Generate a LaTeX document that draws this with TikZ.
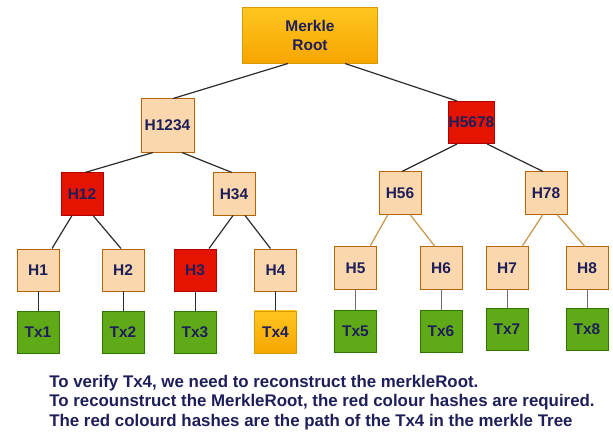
\documentclass[tikz,border=0pt]{standalone}
\usepackage{fontspec}
\setmainfont{Liberation Sans}
\definecolor{hashFill}{HTML}{FAD7AC}
\definecolor{hashDraw}{HTML}{B46504}
\definecolor{pathFill}{HTML}{E51400}
\definecolor{pathDraw}{HTML}{B20000}
\definecolor{txFill}{HTML}{60A917}
\definecolor{txDraw}{HTML}{2D7600}
\definecolor{goldTop}{HTML}{FFC61F}
\definecolor{goldBottom}{HTML}{F7A500}
\definecolor{goldDraw}{HTML}{D79B00}
\definecolor{labelInk}{HTML}{1E1E5A}
\definecolor{edgeDark}{HTML}{2B2B2B}
\definecolor{edgeTan}{HTML}{C99443}
\definecolor{edgeGrey}{HTML}{6E6E6E}
\begin{document}
\begin{tikzpicture}[
        x=0.025cm, y=-0.025cm,
        font=\fontsize{11}{13}\selectfont\bfseries,
        hashbox/.style={draw=hashDraw, fill=hashFill, line width=0.7pt, text=labelInk, minimum width=1.05cm, minimum height=1.05cm, inner sep=0pt},
        bighash/.style={hashbox, minimum width=1.325cm, minimum height=1.325cm},
        pathbox/.style={hashbox, draw=pathDraw, fill=pathFill},
        txbox/.style={hashbox, draw=txDraw, fill=txFill},
        goldbox/.style={hashbox, draw=goldDraw, top color=goldTop, bottom color=goldBottom},
        darkedge/.style={draw=edgeDark, line width=0.85pt},
        tanedge/.style={draw=edgeTan, line width=0.85pt},
        greyedge/.style={draw=edgeGrey, line width=0.85pt}
    ]
        \useasboundingbox (0,0) rectangle (613,432);

        \node[goldbox, minimum width=3.35cm, minimum height=1.375cm, align=center]
            (merkleRoot) at (310,35.5) {Merkle\\Root};

        \node[bighash] (h1234) at (167.5,125.5) {H1234};
        \node[bighash, pathbox] (h5678) at (471.5,122.5) {H5678};

        \node[pathbox] (h12) at (82,194) {H12};
        \node[hashbox] (h34) at (234,194) {H34};
        \node[hashbox] (h56) at (400,193) {H56};
        \node[hashbox] (h78) at (546,193) {H78};

        \node[hashbox] (h1) at (38,270) {H1};
        \node[hashbox] (h2) at (123,270) {H2};
        \node[pathbox] (h3) at (195,270) {H3};
        \node[hashbox] (h4) at (275.5,270) {H4};
        \node[hashbox] (h5) at (355.5,268) {H5};
        \node[hashbox] (h6) at (441,268) {H6};
        \node[hashbox] (h7) at (507,268) {H7};
        \node[hashbox] (h8) at (587,268) {H8};

        \node[txbox] (tx1) at (38,332) {Tx1};
        \node[txbox] (tx2) at (123,332) {Tx2};
        \node[txbox] (tx3) at (195,332) {Tx3};
        \node[goldbox] (tx4) at (275.5,332) {Tx4};
        \node[txbox] (tx5) at (355.5,331) {Tx5};
        \node[txbox] (tx6) at (441,331) {Tx6};
        \node[txbox] (tx7) at (507,329.5) {Tx7};
        \node[txbox] (tx8) at (587,329.5) {Tx8};

        \draw[darkedge] ([xshift=-0.55cm]merkleRoot.south) -- ([xshift=0.14cm]h1234.north);
        \draw[darkedge] ([xshift=0.875cm]merkleRoot.south) -- ([xshift=-0.36cm]h5678.north);

        \draw[darkedge] ([xshift=-0.36cm]h1234.south) -- ([xshift=0.075cm]h12.north);
        \draw[darkedge] ([xshift=0.36cm]h1234.south) -- ([xshift=-0.05cm]h34.north);
        \draw[darkedge] ([xshift=-0.36cm]h5678.south) -- ([xshift=0.05cm]h56.north);
        \draw[darkedge] ([xshift=0.39cm]h5678.south) -- ([xshift=-0.075cm]h78.north);

        \draw[darkedge] ([xshift=-0.25cm]h12.south) -- ([xshift=0.35cm]h1.north);
        \draw[darkedge] ([xshift=0.275cm]h12.south) -- ([xshift=-0.05cm]h2.north);
        \draw[darkedge] ([xshift=-0.025cm]h34.south) -- ([xshift=0.35cm]h3.north);
        \draw[darkedge] ([xshift=0.275cm]h34.south) -- ([xshift=-0.125cm]h4.north);
        \draw[tanedge] ([xshift=-0.3cm]h56.south) -- ([xshift=0.36cm]h5.north);
        \draw[tanedge] ([xshift=0.25cm]h56.south) -- ([xshift=-0.15cm]h6.north);
        \draw[tanedge] ([xshift=-0.075cm]h78.south) -- ([xshift=0.375cm]h7.north);
        \draw[tanedge] ([xshift=0.275cm]h78.south) -- ([xshift=-0.05cm]h8.north);

        \draw[darkedge, line width=0.7pt] (h1) -- (tx1);
        \draw[darkedge, line width=0.7pt] (h2) -- (tx2);
        \draw[darkedge, line width=0.7pt] (h3) -- (tx3);
        \draw[darkedge, line width=0.7pt] (h4) -- (tx4);
        \draw[greyedge, line width=0.7pt] (h5) -- (tx5);
        \draw[greyedge, line width=0.7pt] (h6) -- (tx6);
        \draw[greyedge, line width=0.7pt] (h7) -- (tx7);
        \draw[greyedge, line width=0.7pt] (h8) -- (tx8);

        \node[anchor=north west, inner sep=0pt, align=left, text=labelInk,
              font=\fontsize{12}{13.8}\selectfont\bfseries]
            (note) at (49,375)
            {To verify Tx4, we need to reconstruct the merkleRoot.\\
             To recounstruct the MerkleRoot, the red colour hashes are required.\\
             The red colourd hashes are the path of the Tx4 in the merkle Tree};
    \end{tikzpicture}
\end{document}
